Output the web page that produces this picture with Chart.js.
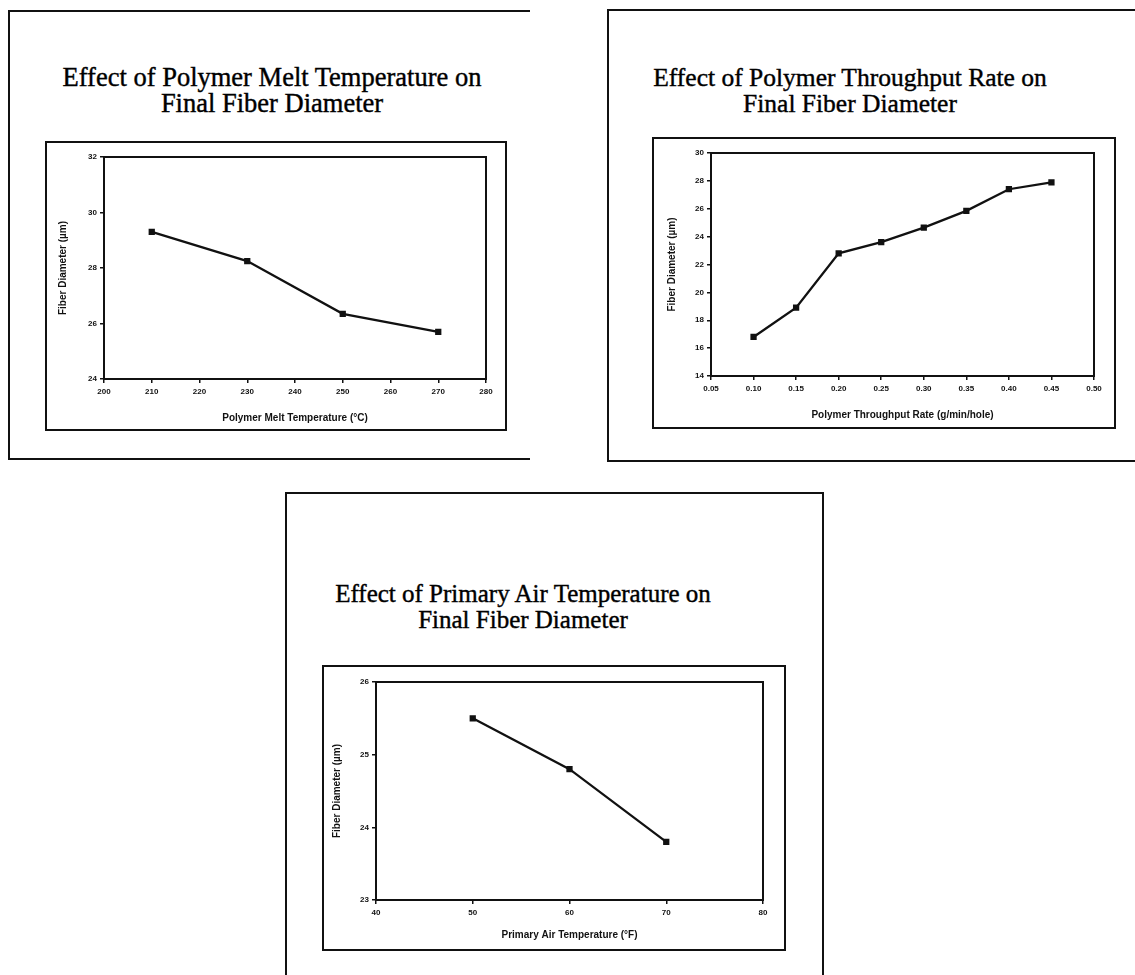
<!DOCTYPE html>
<html>
<head>
<meta charset="utf-8">
<script src="https://cdn.jsdelivr.net/npm/chart.js@4.4.1/dist/chart.umd.min.js"></script>
<style>
  body { margin: 0; background: #fff; width: 1135px; height: 975px; overflow: hidden; position: relative; }
  .panel { position: absolute; border: 2px solid #111; box-sizing: border-box; }
  .title { position: absolute; text-align: center; font-family: "Liberation Serif", serif; font-size: 25px; line-height: 26px; color: #000; white-space: nowrap; -webkit-text-stroke: 0.4px #000; }
  .frame { position: absolute; border: 2px solid #111; }
  .frame canvas { display: block; }
</style>
</head>
<body>

<div class="panel" style="left:8px; top:10px; width:522px; height:450px; border-right:none;"></div>
<div class="panel" style="left:607px; top:9px; width:540px; height:453px; border-right:none;"></div>
<div class="panel" style="left:285px; top:492px; width:539px; height:500px;"></div>

<div class="title" style="left:22px; width:500px; top:64px; font-size:26.5px;">Effect of Polymer Melt Temperature on<br>Final Fiber Diameter</div>
<div class="title" style="left:600px; width:500px; top:65px; font-size:25.5px;">Effect of Polymer Throughput Rate on<br>Final Fiber Diameter</div>
<div class="title" style="left:273px; width:500px; top:581px;">Effect of Primary Air Temperature on<br>Final Fiber Diameter</div>

<div class="frame" style="left:45px; top:141px;"><canvas id="chart-melt" width="458" height="286"></canvas></div>
<div class="frame" style="left:652px; top:137px;"><canvas id="chart-throughput" width="460" height="288"></canvas></div>
<div class="frame" style="left:322px; top:665px;"><canvas id="chart-air" width="460" height="282"></canvas></div>

<script>
// chart 1 - melt temperature
var meltTemp = [210, 230, 250, 270];
var meltDiameter = [29.3, 28.25, 26.35, 25.7];
var meltXTicks = [200, 210, 220, 230, 240, 250, 260, 270, 280];
var meltYTicks = [24, 26, 28, 30, 32];

// chart 2 - throughput rate
var throughputRate = [0.10, 0.15, 0.20, 0.25, 0.30, 0.35, 0.40, 0.45];
var throughputDiameter = [16.8, 18.9, 22.8, 23.6, 24.65, 25.85, 27.4, 27.9];
var throughputXTicks = [0.05, 0.10, 0.15, 0.20, 0.25, 0.30, 0.35, 0.40, 0.45, 0.50];
var throughputYTicks = [14, 16, 18, 20, 22, 24, 26, 28, 30];

// chart 3 - primary air temperature
var airTemp = [50, 60, 70];
var airDiameter = [25.5, 24.8, 23.8];
var airXTicks = [40, 50, 60, 70, 80];
var airYTicks = [23, 24, 25, 26];

var yTitle = "Fiber Diameter (\u00b5m)";

var boxPlugin = {
	id: "plotBox",
	afterDraw: function(chart){
		var a = chart.chartArea;
		var ctx = chart.ctx;
		ctx.save();
		ctx.strokeStyle = "#111";
		ctx.lineWidth = 2;
		ctx.strokeRect(a.left, a.top, a.right - a.left, a.bottom - a.top);
		ctx.restore();
	}
};

function toPoints(xs, ys){
	return xs.map(function(x, i){ return {x: x, y: ys[i]}; });
}

function tickList(list){
	return function(scale){
		scale.ticks = list.map(function(v){ return {value: v}; });
	};
}

function makeChart(id, xs, ys, xTicks, yTicks, xTitle, layout, fmt){
	var ctx = document.getElementById(id).getContext("2d");
	var tickFont = {family: "Liberation Sans", size: 8, weight: "bold"};
	var titleFont = {family: "Liberation Sans", size: 10, weight: "bold"};

	return new Chart(ctx, {
		type: "line",
		data: {
			datasets: [{
				data: toPoints(xs, ys),
				borderColor: "#111",
				backgroundColor: "#111",
				borderWidth: 2.3,
				pointStyle: "rect",
				pointRadius: 2.8,
				pointBackgroundColor: "#111",
				pointBorderColor: "#111",
				tension: 0
			}]
		},
		options: {
			responsive: false,
			animation: false,
			events: [],
			layout: { padding: { top: layout.top, right: layout.right, left: 0, bottom: 0 } },
			plugins: { legend: { display: false }, tooltip: { enabled: false } },
			scales: {
				x: {
					type: "linear",
					min: xTicks[0],
					max: xTicks[xTicks.length - 1],
					afterBuildTicks: tickList(xTicks),
					afterFit: function(s){ s.height = layout.xh; },
					grid: { drawOnChartArea: false, drawTicks: true, tickLength: 4, color: "#111", lineWidth: 1.5 },
					border: { color: "#111", width: 2 },
					ticks: { color: "#111", font: tickFont, padding: 4, autoSkip: false, maxRotation: 0,
						callback: function(v){ return fmt ? v.toFixed(fmt) : v; } },
					title: { display: true, text: xTitle, color: "#111", font: titleFont, padding: { top: 0, bottom: layout.xtp } }
				},
				y: {
					min: yTicks[0],
					max: yTicks[yTicks.length - 1],
					afterBuildTicks: tickList(yTicks),
					afterFit: function(s){ s.width = layout.yw; },
					grid: { drawOnChartArea: false, drawTicks: true, tickLength: 4, color: "#111", lineWidth: 1.5 },
					border: { color: "#111", width: 2 },
					ticks: { color: "#111", font: tickFont, padding: 3 },
					title: { display: true, text: yTitle, color: "#111", font: titleFont, padding: { top: layout.ytp, bottom: 0 } }
				}
			}
		},
		plugins: [boxPlugin]
	});
}

makeChart("chart-melt", meltTemp, meltDiameter, meltXTicks, meltYTicks,
	"Polymer Melt Temperature (\u00b0C)", {top: 14, right: 19, xh: 50, yw: 57, xtp: 5, ytp: 10}, 0);
makeChart("chart-throughput", throughputRate, throughputDiameter, throughputXTicks, throughputYTicks,
	"Polymer Throughput Rate (g/min/hole)", {top: 14, right: 20, xh: 51, yw: 57, xtp: 6, ytp: 12}, 2);
makeChart("chart-air", airTemp, airDiameter, airXTicks, airYTicks,
	"Primary Air Temperature (\u00b0F)", {top: 15, right: 21, xh: 49, yw: 52, xtp: 8, ytp: 7}, 0);
</script>
</body>
</html>
